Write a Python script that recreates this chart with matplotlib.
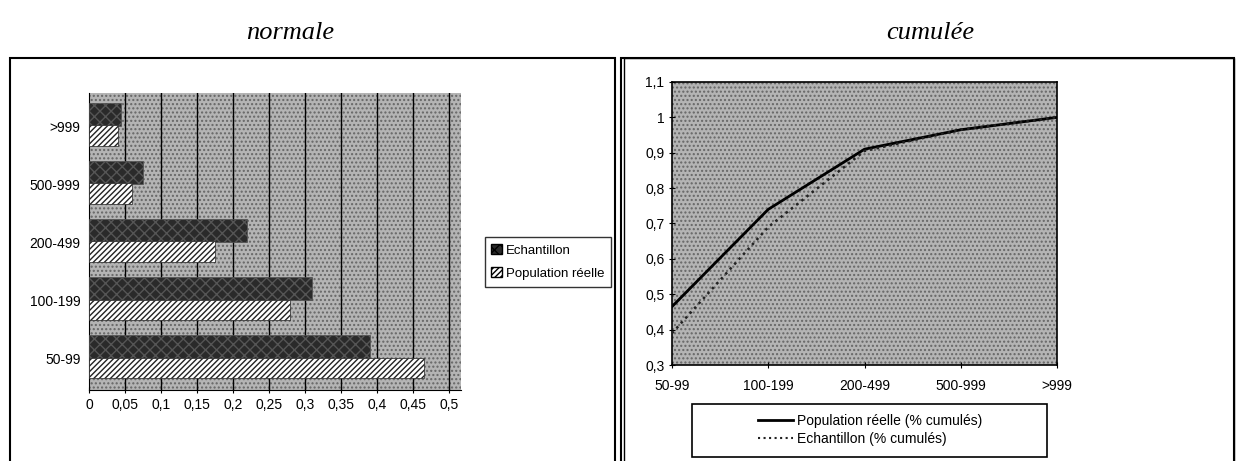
import numpy as np
import matplotlib
matplotlib.use("Agg")
import matplotlib.pyplot as plt
from matplotlib.patches import Rectangle, Patch
from matplotlib.lines import Line2D

# Data
categories = ["50-99", "100-199", "200-499", "500-999", ">999"]
echantillon = [0.39, 0.31, 0.22, 0.075, 0.045]
population = [0.465, 0.28, 0.175, 0.06, 0.04]
pop_cumul = [0.465, 0.74, 0.91, 0.965, 1.0]
ech_cumul = [0.39, 0.69, 0.905, 0.965, 1.0]
bar_ticks = [0, 0.05, 0.1, 0.15, 0.2, 0.25, 0.3, 0.35, 0.4, 0.45, 0.5]
line_ticks = [0.3, 0.4, 0.5, 0.6, 0.7, 0.8, 0.9, 1.0, 1.1]

plt.rcParams['font.family'] = ['Liberation Sans Narrow', 'Liberation Sans', 'DejaVu Sans']
W, H = 1236, 461
fig = plt.figure(figsize=(W / 100, H / 100), dpi=100)

def fx(px):
    return px / W

def fy(py):
    return 1 - py / H

stipple = '#b4b4b4'

# panel frames
fig.add_artist(Rectangle((fx(10), fy(470)), fx(605), fy(58) - fy(470), transform=fig.transFigure,
                         fill=False, lw=1.5, ec='black'))
fig.add_artist(Rectangle((fx(621), fy(470)), fx(613), fy(58) - fy(470), transform=fig.transFigure,
                         fill=False, lw=1.5, ec='black'))
fig.add_artist(Rectangle((fx(624), fy(470)), fx(610), fy(58) - fy(470), transform=fig.transFigure,
                         fill=False, lw=1.0, ec='black'))

# titles
fig.text(fx(290), fy(33), "normale", ha='center', va='center', fontsize=19,
         family='Liberation Serif', style='italic')
fig.text(fx(930), fy(33), "cumulée", ha='center', va='center', fontsize=19,
         family='Liberation Serif', style='italic')

# ---- left: horizontal bars ----
ax1 = fig.add_axes([fx(89), fy(390), fx(461) - fx(89), fy(93) - fy(390)])
ax1.set_facecolor(stipple)
ax1.add_patch(Rectangle((0, 0), 1, 1, transform=ax1.transAxes, fill=False, hatch='....',
                        ec='#666666', lw=0, zorder=0))
y = np.arange(len(categories))
for t in bar_ticks[1:]:
    ax1.axvline(t, color='black', lw=1, zorder=1)
ax1.barh(y + 0.2, echantillon, height=0.4, color='#2a2a2a', hatch='xxx', ec='#555555', lw=0.5, zorder=3)
ax1.barh(y - 0.17, population, height=0.36, color='white', hatch='//////', ec='#222222', lw=0.5, zorder=3)
ax1.set_xlim(0, 0.517)
ax1.set_ylim(-0.55, 4.57)
ax1.set_xticks(bar_ticks)
ax1.set_xticklabels([f"{t:g}".replace('.', ',') for t in bar_ticks], fontsize=10)
ax1.set_yticks(y)
ax1.set_yticklabels(categories, fontsize=10)
ax1.tick_params(axis='y', length=0, pad=6)
ax1.tick_params(axis='x', length=4, direction='inout')
for s in ['top', 'right']:
    ax1.spines[s].set_visible(False)

fig.legend(handles=[Patch(fc='#2a2a2a', hatch='xxx', ec='black', label='Echantillon'),
                    Patch(fc='white', hatch='//////', ec='black', label='Population réelle')],
           loc='center', bbox_to_anchor=(fx(548), fy(262)), fontsize=9.5, frameon=True,
           fancybox=False, edgecolor='black', handlelength=0.8, handleheight=0.8,
           handletextpad=0.3, borderpad=0.5, labelspacing=0.8)

# ---- right: cumulative lines ----
ax2 = fig.add_axes([fx(672), fy(365), fx(1057) - fx(672), fy(82) - fy(365)])
ax2.set_facecolor(stipple)
ax2.add_patch(Rectangle((0, 0), 1, 1, transform=ax2.transAxes, fill=False, hatch='....',
                        ec='#666666', lw=0, zorder=0))
x = np.arange(len(categories))
ax2.plot(x, pop_cumul, color='black', lw=2, label='Population réelle (% cumulés)', zorder=3)
ax2.plot(x, ech_cumul, color='#222222', lw=1.8, ls=':', label='Echantillon (% cumulés)', zorder=3)
ax2.set_xlim(0, 4)
ax2.set_ylim(0.3, 1.1)
ax2.set_yticks(line_ticks)
ax2.set_yticklabels([f"{t:g}".replace('.', ',') for t in line_ticks], fontsize=10)
ax2.set_xticks(x)
ax2.set_xticklabels(categories, fontsize=10)
ax2.tick_params(axis='x', length=4, direction='inout', pad=8)
ax2.tick_params(axis='y', length=4, direction='inout')
for s in ax2.spines.values():
    s.set_linewidth(1.2)

fig.add_artist(Rectangle((fx(692), fy(457)), fx(1047) - fx(692), fy(404) - fy(457),
                         transform=fig.transFigure, fill=False, lw=1.2, ec='black'))
fig.legend(handles=[Line2D([], [], color='black', lw=2, label='Population réelle (% cumulés)'),
                    Line2D([], [], color='#222222', lw=1.5, ls=':', label='Echantillon (% cumulés)')],
           loc='center', bbox_to_anchor=(fx(870), fy(430)), fontsize=10, frameon=False,
           handlelength=2.5, handletextpad=0.3, labelspacing=0.3)

fig.savefig("out.png", dpi=100)
